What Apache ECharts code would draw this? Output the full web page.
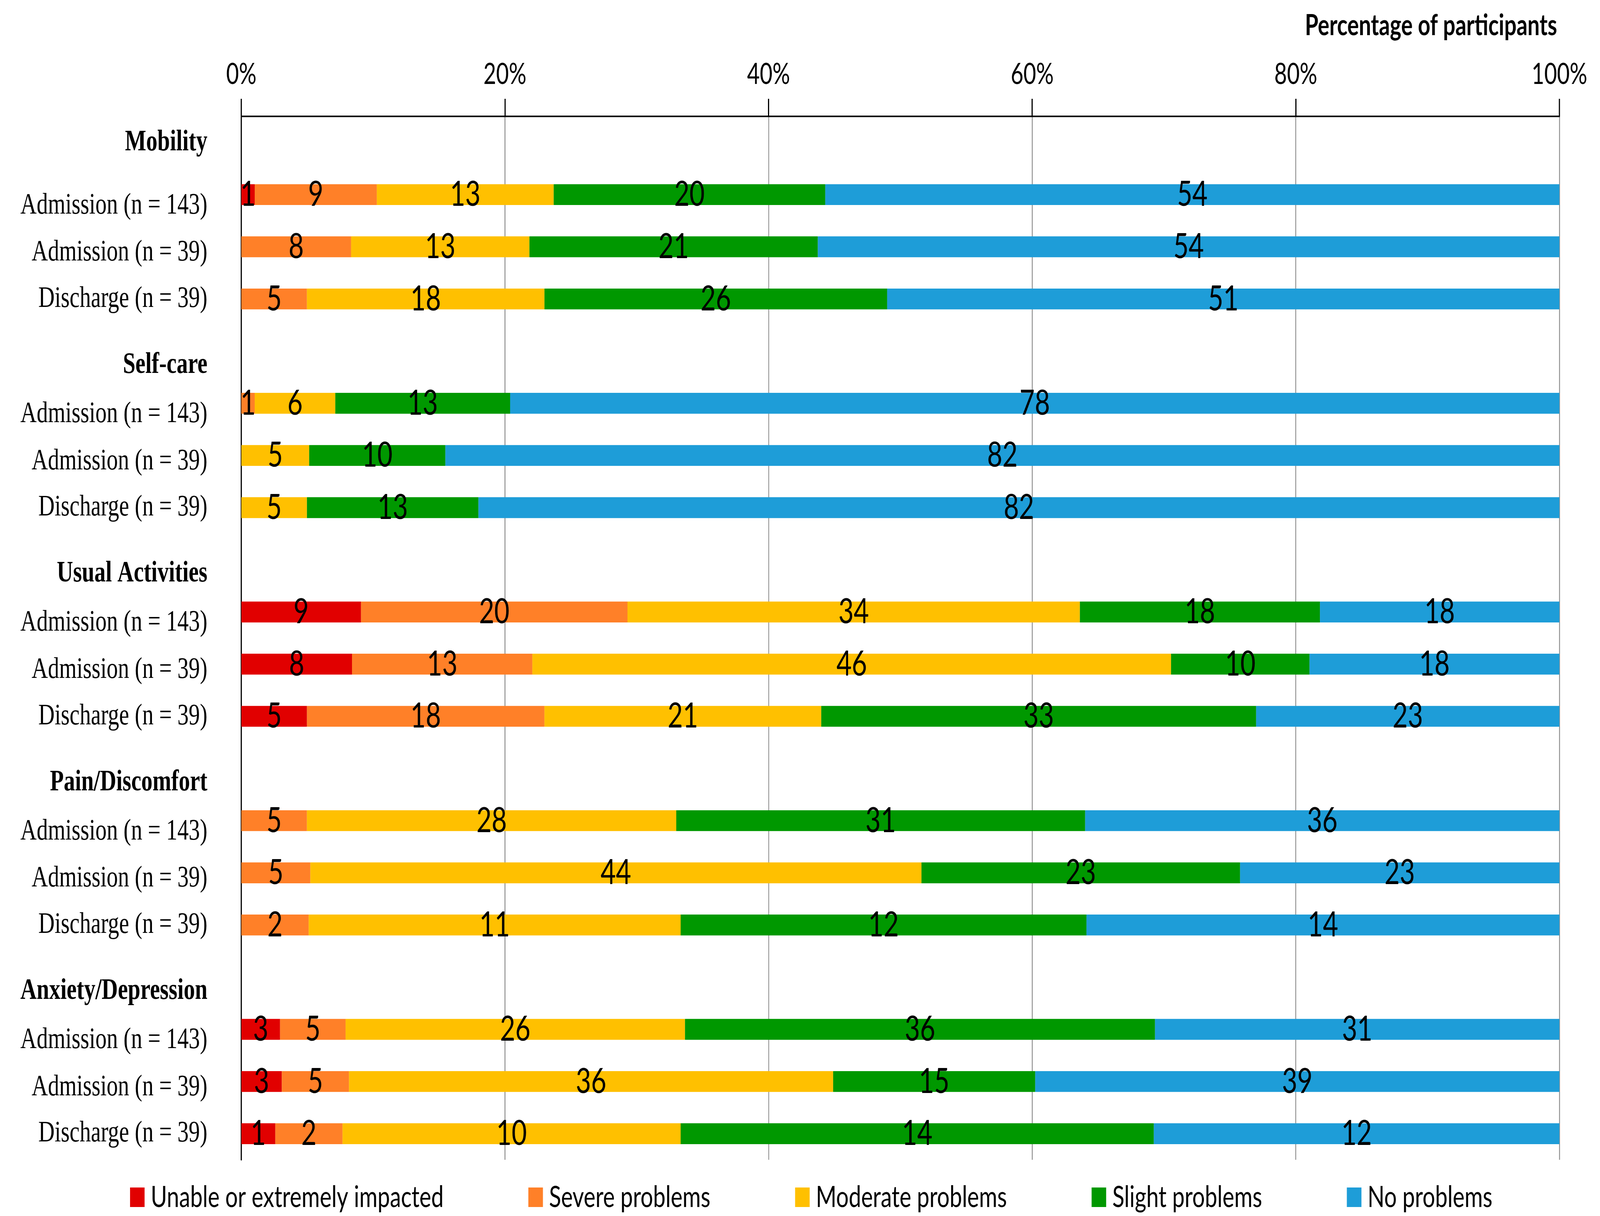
<!DOCTYPE html>
<html>
<head>
<meta charset="utf-8">
<script src="https://cdn.jsdelivr.net/npm/echarts@6/dist/echarts.min.js"></script>
<style>html,body{margin:0;padding:0;background:#fff;overflow:hidden}#c{width:5477px;height:3114px;transform-origin:0 0}</style>
</head>
<body>
<div id="c"></div>
<script>
const categories = ['Mobility','Admission (n = 143)','Admission (n = 39)','Discharge (n = 39)',
  'Self-care','Admission (n = 143)','Admission (n = 39)','Discharge (n = 39)',
  'Usual Activities','Admission (n = 143)','Admission (n = 39)','Discharge (n = 39)',
  'Pain/Discomfort','Admission (n = 143)','Admission (n = 39)','Discharge (n = 39)',
  'Anxiety/Depression','Admission (n = 143)','Admission (n = 39)','Discharge (n = 39)'];
const headers = ['Mobility','Self-care','Usual Activities','Pain/Discomfort','Anxiety/Depression'];
const seriesNames = ['Unable or extremely impacted','Severe problems','Moderate problems','Slight problems','No problems'];
const colors = ['#E10000','#FF8028','#FFC000','#009800','#1E9DD8'];
const xTicks = [0,20,40,60,80,100];

// bar widths (percentage of participants)
const unable   = [null,1.02,null,null, null,null,null,null, null,9.08,8.40,4.98, null,null,null,null, null,2.94,3.07,2.58];
const severe   = [null,9.26,8.33,4.98, null,1.02,null,null, null,20.22,13.68,18.02, null,4.98,5.24,5.11, null,4.97,5.10,5.10];
const moderate = [null,13.42,13.53,18.02, null,6.11,5.15,4.98, null,34.32,48.46,21.00, null,28.02,46.36,28.22, null,25.75,36.73,25.65];
const slight   = [null,20.60,21.88,26.00, null,13.26,10.33,13.01, null,18.21,10.50,32.99, null,31.02,24.17,30.79, null,35.66,15.33,35.90];
const noProb   = [null,55.70,56.26,51.00, null,79.61,84.52,82.01, null,18.17,18.96,23.01, null,35.98,24.23,35.88, null,30.68,39.77,30.77];

// data labels shown on the bars
const unableLbl   = [null,1,null,null, null,null,null,null, null,9,8,5, null,null,null,null, null,3,3,1];
const severeLbl   = [null,9,8,5, null,1,null,null, null,20,13,18, null,5,5,2, null,5,5,2];
const moderateLbl = [null,13,13,18, null,6,5,5, null,34,46,21, null,28,44,11, null,26,36,10];
const slightLbl   = [null,20,21,26, null,13,10,13, null,18,10,33, null,31,23,12, null,36,15,14];
const noProbLbl   = [null,54,54,51, null,78,82,82, null,18,18,23, null,36,23,14, null,31,39,12];

const values = [unable, severe, moderate, slight, noProb];
const labels = [unableLbl, severeLbl, moderateLbl, slightLbl, noProbLbl];

// the chart is laid out for 5477x3114; fit it to the real window if that differs
const el = document.getElementById('c');
const sx = (window.innerWidth || 5477) / 5477, sy = (window.innerHeight || 3114) / 3114;
if (Math.abs(sx - 1) > 0.001 || Math.abs(sy - 1) > 0.001) el.style.transform = 'scale(' + sx + ',' + sy + ')';

const chart = echarts.init(el, null, {renderer:'canvas'});
const numFont = 'Lato, "Open Sans", sans-serif';
const serif = '"Liberation Serif", "DejaVu Serif", serif';

const series = seriesNames.map((name, si) => ({
  name: name,
  type: 'bar',
  stack: 'total',
  barWidth: '40%',
  itemStyle: {color: colors[si]},
  label: {
    show: true, position: 'inside', color: '#000',
    fontFamily: numFont, fontSize: 90,
    formatter: p => { const v = labels[si][p.dataIndex]; return v == null ? '' : String(v); }
  },
  emphasis: {disabled: true},
  data: values[si]
}));

chart.setOption({
  animation: false,
  backgroundColor: '#fff',
  title: {
    text: 'Percentage of participants', right: 142, top: 24,
    textStyle: {fontFamily: numFont, fontSize: 74, fontWeight: 'bold', color: '#000'}
  },
  legend: {
    data: seriesNames, left: 440, top: 3023, itemWidth: 50, itemHeight: 50, itemGap: 290,
    icon: 'rect', selectedMode: false,
    textStyle: {fontFamily: numFont, fontSize: 76, color: '#000', padding: [0,0,0,16]}
  },
  grid: {left: 826, right: 139, top: 298, bottom: 144, containLabel: false},
  xAxis: {
    type: 'value', position: 'top', min: xTicks[0], max: xTicks[xTicks.length - 1], interval: 20,
    axisLine: {show: true, lineStyle: {color: '#000', width: 4}},
    axisTick: {show: true, length: 45, lineStyle: {color: '#000', width: 4}},
    axisLabel: {formatter: '{value}%', fontFamily: numFont, fontSize: 75, color: '#000', margin: 70},
    splitLine: {show: true, lineStyle: {color: '#8c8c8c', width: 3}}
  },
  yAxis: {
    type: 'category', inverse: true, data: categories,
    axisLine: {show: true, lineStyle: {color: '#000', width: 4}},
    axisTick: {show: false},
    axisLabel: {
      margin: 116, fontFamily: serif, fontSize: 77, color: '#000',
      formatter: (v, i) => {
        if (headers.indexOf(v) >= 0) return i === 0 ? '{h0|' + v + '}' : '{h|' + v + '}';
        const pos = i % 4;
        return pos === 1 ? '{a|' + v + '}' : pos === 2 ? '{b|' + v + '}' : '{c|' + v + '}';
      },
      rich: {
        h0: {fontFamily: serif, fontSize: 77, fontWeight: 'bold', color: '#000'},
        h:  {fontFamily: serif, fontSize: 77, fontWeight: 'bold', color: '#000', padding: [72,0,0,0]},
        a:  {fontFamily: serif, fontSize: 77, color: '#000', padding: [56,0,0,0]},
        b:  {fontFamily: serif, fontSize: 77, color: '#000', padding: [30,0,0,0]},
        c:  {fontFamily: serif, fontSize: 77, color: '#000'}
      }
    },
    splitLine: {show: false}
  },
  series: series
});
</script>
</body>
</html>
